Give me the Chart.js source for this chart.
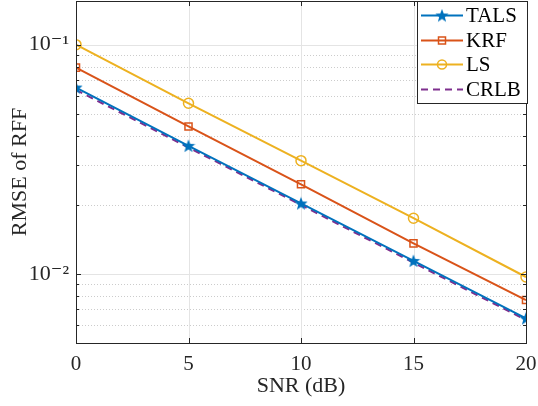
<!DOCTYPE html>
<html>
<head>
<meta charset="utf-8">
<script src="https://cdn.jsdelivr.net/npm/chart.js@4.4.1/dist/chart.umd.min.js"></script>
<style>
	html, body { margin: 0; padding: 0; background: #fff; }
	#wrap { width: 538px; height: 406px; }
</style>
</head>
<body>
<div id="wrap"><canvas id="rmseChart"></canvas></div>
<script>
//#region data
const snrValues = [0, 5, 10, 15, 20];
const talsRmse = [0.0650, 0.0362, 0.0203, 0.0114, 0.00640];
const krfRmse = [0.0794, 0.0440, 0.0246, 0.0136, 0.0077];
const lsRmse = [0.100, 0.0555, 0.0312, 0.0175, 0.0097];
const crlbRmse = [0.0635, 0.0356, 0.0200, 0.0112, 0.0063];
const seriesNames = ['TALS', 'KRF', 'LS', 'CRLB'];
const yMajorTicks = [0.01, 0.1];
const yTickLabels = ['10\u207B\u00B2', '10\u207B\u00B9'];
//#endregion

const serif = "'Liberation Serif', 'DejaVu Serif', serif";
const axisColor = '#262626';
const colors = ['#0072BD', '#D95319', '#EDB120', '#7E2F8E'];

//minor + major tick values for the log axis
const yAllTicks = [];
for (let i = 5; i <= 9; i++) yAllTicks.push(i / 1000);
for (let i = 1; i <= 9; i++) yAllTicks.push(i / 100);
yAllTicks.push(0.1);

//filled five point star, used as the TALS marker
function makeStar(size, color) {
	const c = document.createElement('canvas');
	c.width = size;
	c.height = size;
	const ctx = c.getContext('2d');
	const r = size / 2, ri = r * 0.42;
	ctx.beginPath();
	for (let i = 0; i < 10; i++) {
		const a = -Math.PI / 2 + i * Math.PI / 5;
		const rr = i % 2 === 0 ? r : ri;
		ctx.lineTo(r + rr * Math.cos(a), r + 0.5 + rr * Math.sin(a));
	}
	ctx.closePath();
	ctx.fillStyle = color;
	ctx.fill();
	return c;
}
const starImg = makeStar(14, colors[0]);

function toPoints(values) {
	return values.map((v, i) => ({ x: snrValues[i], y: v }));
}

//grid, inward ticks, box and legend in MATLAB style
const matlabAxes = {
	id: 'matlabAxes',
	beforeDatasetsDraw(chart) {
		const { ctx, chartArea: a, scales: { x, y } } = chart;
		ctx.save();
		ctx.lineWidth = 1;
		//minor y grid (dotted)
		ctx.strokeStyle = '#cccccc';
		ctx.setLineDash([1, 2]);
		yAllTicks.forEach((v) => {
			if (yMajorTicks.includes(v)) return;
			const py = Math.round(y.getPixelForValue(v)) + 0.5;
			ctx.beginPath(); ctx.moveTo(a.left, py); ctx.lineTo(a.right, py); ctx.stroke();
		});
		//major grid (solid)
		ctx.setLineDash([]);
		ctx.strokeStyle = '#e4e4e4';
		yMajorTicks.forEach((v) => {
			const py = Math.round(y.getPixelForValue(v)) + 0.5;
			ctx.beginPath(); ctx.moveTo(a.left, py); ctx.lineTo(a.right, py); ctx.stroke();
		});
		snrValues.forEach((v) => {
			const px = Math.round(x.getPixelForValue(v)) + 0.5;
			ctx.beginPath(); ctx.moveTo(px, a.top); ctx.lineTo(px, a.bottom); ctx.stroke();
		});
		ctx.restore();
	},
	afterDatasetsDraw(chart) {
		const { ctx, chartArea: a, scales: { x, y } } = chart;
		ctx.save();
		ctx.strokeStyle = axisColor;
		ctx.lineWidth = 1;
		//inward ticks
		snrValues.forEach((v) => {
			const px = Math.round(x.getPixelForValue(v)) + 0.5;
			ctx.beginPath();
			ctx.moveTo(px, a.bottom); ctx.lineTo(px, a.bottom - 5);
			ctx.moveTo(px, a.top); ctx.lineTo(px, a.top + 5);
			ctx.stroke();
		});
		yAllTicks.forEach((v) => {
			const len = yMajorTicks.includes(v) ? 5 : 3;
			const py = Math.round(y.getPixelForValue(v)) + 0.5;
			ctx.beginPath();
			ctx.moveTo(a.left, py); ctx.lineTo(a.left + len, py);
			ctx.moveTo(a.right, py); ctx.lineTo(a.right - len, py);
			ctx.stroke();
		});
		//box
		ctx.strokeRect(Math.round(a.left) + 0.5, Math.round(a.top) + 0.5,
			Math.round(a.right - a.left), Math.round(a.bottom - a.top));

		//legend box
		const lx = 417.5, ly = 1.5, lw = 110, lh = 102;
		ctx.fillStyle = '#fff';
		ctx.fillRect(lx, ly, lw, lh);
		ctx.strokeStyle = axisColor;
		ctx.strokeRect(lx, ly, lw, lh);
		const rows = [15, 40, 64, 89];
		chart.data.datasets.forEach((ds, i) => {
			const ry = rows[i] + 0.5;
			ctx.strokeStyle = ds.borderColor;
			ctx.lineWidth = 2;
			ctx.setLineDash(ds.borderDash || []);
			ctx.beginPath(); ctx.moveTo(421, ry); ctx.lineTo(463, ry); ctx.stroke();
			ctx.setLineDash([]);
			ctx.lineWidth = 1.5;
			if (i === 0) ctx.drawImage(starImg, 442 - 7, ry - 7);
			if (i === 1) ctx.strokeRect(438.5, ry - 3.5, 7, 7);
			if (i === 2) { ctx.beginPath(); ctx.arc(442, ry, 4.5, 0, Math.PI * 2); ctx.stroke(); }
			ctx.fillStyle = '#000';
			ctx.font = '21px ' + serif;
			ctx.textBaseline = 'middle';
			ctx.textAlign = 'left';
			ctx.fillText(seriesNames[i], 466, ry + 1);
		});
		ctx.restore();
	}
};

const chart = new Chart(document.getElementById('rmseChart'), {
	type: 'line',
	data: {
		datasets: [{
			label: seriesNames[0],
			data: toPoints(talsRmse),
			borderColor: colors[0],
			backgroundColor: colors[0],
			borderWidth: 2,
			pointStyle: starImg,
		}, {
			label: seriesNames[1],
			data: toPoints(krfRmse),
			borderColor: colors[1],
			backgroundColor: 'rgba(0,0,0,0)',
			borderWidth: 2,
			pointStyle: 'rect',
			pointRadius: 5,
			pointBorderWidth: 1.5,
		}, {
			label: seriesNames[2],
			data: toPoints(lsRmse),
			borderColor: colors[2],
			backgroundColor: 'rgba(0,0,0,0)',
			borderWidth: 2,
			pointStyle: 'circle',
			pointRadius: 5,
			pointBorderWidth: 1.5,
		}, {
			label: seriesNames[3],
			data: toPoints(crlbRmse),
			borderColor: colors[3],
			borderWidth: 2,
			borderDash: [7, 5],
			pointRadius: 0,
		}]
	},
	options: {
		responsive: true,
		maintainAspectRatio: false,
		animation: false,
		layout: { autoPadding: false, padding: { top: 1, right: 12, left: 0, bottom: 0 } },
		plugins: {
			legend: { display: false },
			tooltip: { enabled: false }
		},
		scales: {
			x: {
				type: 'linear',
				min: 0,
				max: 20,
				afterFit: (s) => { s.height = 63; s.paddingLeft = 0; s.paddingRight = 0; },
				afterBuildTicks: (s) => { s.ticks = snrValues.map((v) => ({ value: v })); },
				grid: { display: false, drawTicks: false },
				border: { display: false },
				ticks: {
					padding: 9,
					color: '#262626',
					font: { family: serif, size: 21 }
				},
				title: {
					display: true,
					text: 'SNR (dB)',
					color: '#262626',
					padding: { top: 0, bottom: 7 },
					font: { family: serif, size: 22 }
				}
			},
			y: {
				type: 'logarithmic',
				min: 0.005,
				max: 0.155,
				afterFit: (s) => { s.width = 76; s.paddingTop = 0; s.paddingBottom = 0; },
				afterBuildTicks: (s) => { s.ticks = yMajorTicks.map((v) => ({ value: v })); },
				grid: { display: false, drawTicks: false },
				border: { display: false },
				ticks: {
					padding: 7,
					color: '#262626',
					font: { family: serif, size: 22 },
					callback: (v) => yTickLabels[yMajorTicks.indexOf(v)] || ''
				},
				title: {
					display: true,
					text: 'RMSE of RFF',
					color: '#262626',
					padding: { top: 7, bottom: 2 },
					font: { family: serif, size: 22 }
				}
			}
		}
	},
	plugins: [matlabAxes]
});
</script>
</body>
</html>
